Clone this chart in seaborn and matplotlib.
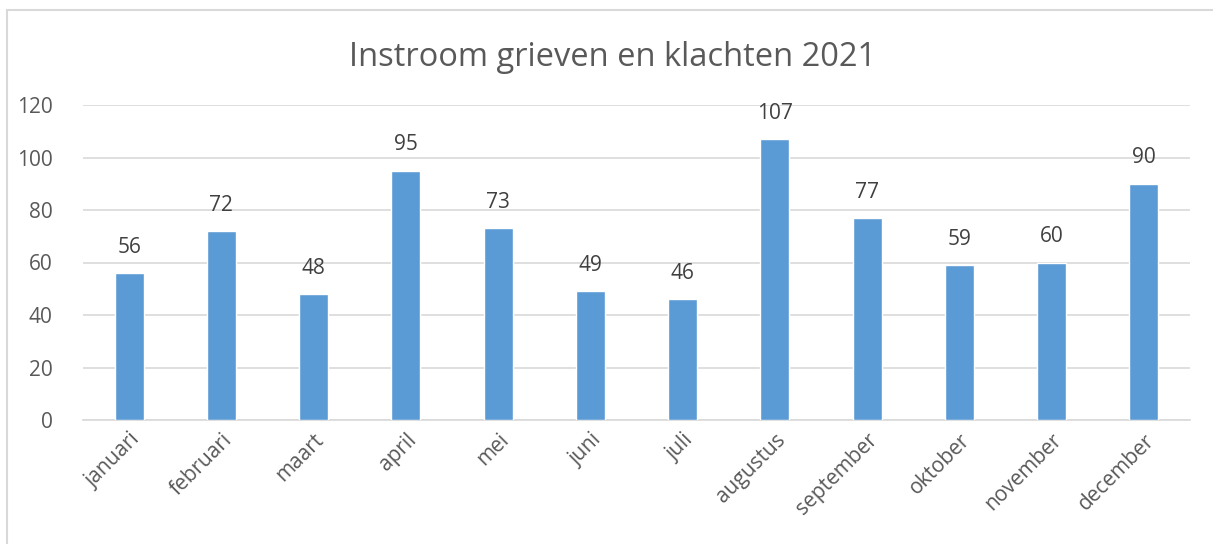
import matplotlib
matplotlib.use("Agg")
import matplotlib.pyplot as plt
from matplotlib.lines import Line2D
import seaborn as sns
import pandas as pd

months = ["januari", "februari", "maart", "april", "mei", "juni", "juli",
          "augustus", "september", "oktober", "november", "december"]
values = [56, 72, 48, 95, 73, 49, 46, 107, 77, 59, 60, 90]
title = "Instroom grieven en klachten 2021"

sns.set_theme(style="white")
plt.rcParams['font.family'] = ['Open Sans', 'DejaVu Sans']

W, H = 1213, 544
fig = plt.figure(figsize=(W / 100, H / 100), dpi=100)
ax = fig.add_axes([83 / W, 1 - 420 / H, (1190 - 83) / W, (420 - 105) / H])

df = pd.DataFrame({"month": months, "value": values})
sns.barplot(data=df, x="month", y="value", color="#5B9BD5", saturation=1,
            width=0.315, ax=ax, zorder=3)

ax.set_ylim(0, 120)
ax.set_yticks(range(0, 121, 20))
ax.set_xlim(-0.5, 11.5)
ax.grid(axis="y", color="#D9D9D9", linewidth=1.2, zorder=0)
ax.set_axisbelow(True)
for s in ["left", "right", "top"]:
    ax.spines[s].set_visible(False)
ax.spines["bottom"].set_color("#D9D9D9")
ax.spines["bottom"].set_linewidth(1.2)
ax.set_xlabel("")
ax.set_ylabel("")
ax.tick_params(axis="y", length=0, pad=22, labelsize=15, labelcolor="#595959")
ax.tick_params(axis="x", length=0, pad=7, labelsize=15, labelcolor="#595959")
plt.setp(ax.get_xticklabels(), rotation=45, ha="right", rotation_mode="anchor")

for c in ax.containers:
    ax.bar_label(c, labels=[str(v) for v in values], padding=11,
                 fontsize=15, color="#404040")

fig.text(613 / W, 1 - 57 / H, title, ha="center", va="center",
         fontsize=23.5, color="#595959")

fig.add_artist(Line2D([7 / W, 7 / W], [0, 1 - 10 / H], transform=fig.transFigure,
                      color="#D9D9D9", linewidth=1.5))
fig.add_artist(Line2D([7 / W, 1], [1 - 10 / H, 1 - 10 / H], transform=fig.transFigure,
                      color="#D9D9D9", linewidth=1.5))

fig.savefig("out.png", dpi=100, facecolor="white")
